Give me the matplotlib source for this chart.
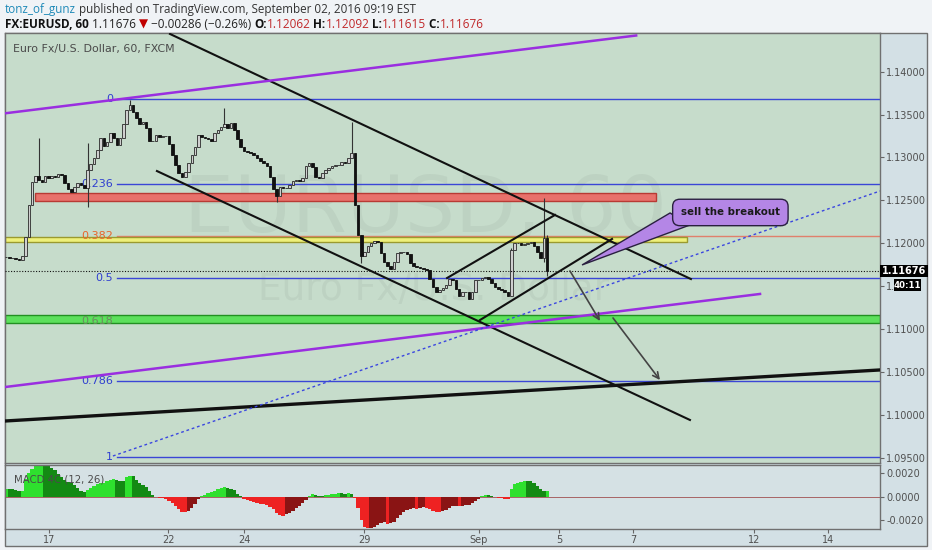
import numpy as np
import matplotlib
matplotlib.use('Agg')
import matplotlib.pyplot as plt
from matplotlib.patches import Rectangle, Polygon

# ---------------- data (2-hour bars, index k) ----------------
closes = [1.11840, 1.11828, 1.11828, 1.11817, 1.11805, 1.11851, 1.12073, 1.12446, 1.12714, 1.12784,
          1.12737, 1.12714, 1.12784, 1.12761, 1.12784, 1.12772, 1.12807, 1.12796, 1.12702, 1.12633,
          1.12598, 1.12656, 1.12702, 1.12679, 1.12644, 1.12854, 1.12924, 1.12994, 1.13087, 1.13227,
          1.13134, 1.13180, 1.13285, 1.13227, 1.13146, 1.13227, 1.13390, 1.13554, 1.13612, 1.13530,
          1.13460, 1.13390, 1.13414, 1.13344, 1.13192, 1.13192, 1.13262, 1.13239, 1.13250, 1.13250,
          1.13157, 1.13029, 1.12912, 1.12819, 1.12772, 1.12831, 1.12936, 1.13029, 1.13122, 1.13262,
          1.13239, 1.13227, 1.13215, 1.13192, 1.13285, 1.13320, 1.13355, 1.13390, 1.13344, 1.13402,
          1.13320, 1.13215, 1.13122, 1.13076, 1.13064, 1.13052, 1.13029, 1.12994, 1.12959, 1.12936,
          1.12901, 1.12772, 1.12633, 1.12551, 1.12656, 1.12644, 1.12644, 1.12679, 1.12726, 1.12737,
          1.12726, 1.12761, 1.12901, 1.12936, 1.12889, 1.12772, 1.12761, 1.12819, 1.12854, 1.12877,
          1.12901, 1.12912, 1.12912, 1.12947, 1.12936, 1.12994, 1.13052, 1.12446, 1.12096, 1.11851,
          1.11898, 1.11968, 1.12003, 1.12026, 1.12015, 1.11886, 1.11782, 1.11735, 1.11700, 1.11782,
          1.11886, 1.11898, 1.11898, 1.11875, 1.11770, 1.11735, 1.11723, 1.11712, 1.11700, 1.11688,
          1.11583, 1.11490, 1.11432, 1.11455, 1.11478, 1.11513, 1.11583, 1.11572, 1.11467, 1.11385,
          1.11432, 1.11432, 1.11350, 1.11432, 1.11572, 1.11572, 1.11595, 1.11607, 1.11583, 1.11537,
          1.11490, 1.11467, 1.11455, 1.11432, 1.11385, 1.11921, 1.12003, 1.12003, 1.11980, 1.11991,
          1.12003, 1.12015, 1.11968, 1.11898, 1.11828, 1.12062, 1.11676]
spike_high = {10: 1.13227, 25: 1.13169, 38: 1.13670, 67: 1.13577, 106: 1.13414,
              155: 1.11944, 165: 1.12528, 166: 1.12092}
spike_low = {25: 1.12423, 83: 1.12481, 109: 1.11770, 165: 1.11782, 166: 1.11615}

macd_e4 = [7.0, 6.8, 6.5, 5.8, 4.8, 5.0, 15.0, 20.5, 24.0, 26.5,
           27.4, 27.4, 27.2, 26.5, 24.5, 22.5, 19.5, 16.5, 14.5, 12.5,
           11.5, 10.3, 7.5, 5.0, 4.0, 5.5, 7.6, 9.0, 10.5, 11.3,
           12.0, 13.2, 14.5, 14.8, 14.0, 13.5, 13.0, 16.5, 18.0, 17.5,
           14.0, 12.0, 10.3, 8.3, 4.5, 1.5, -0.2, -0.8, -1.3, -2.2,
           -3.6, -5.8, -8.0, -10.7, -13.0, -13.4, -12.5, -9.5, -6.2, -2.0,
           0.9, 1.8, 2.8, 4.2, 5.3, 6.5, 7.2, 7.9, 7.6, 6.8,
           5.5, 2.5, 0.7, -1.8, -3.0, -3.9, -4.6, -5.1, -5.9, -6.5,
           -7.3, -8.8, -10.8, -13.5, -16.0, -16.2, -14.9, -13.5, -12.2, -10.0,
           -8.0, -5.5, -2.5, 1.0, 2.0, 1.2, 0.6, 0.4, 1.2, 1.7,
           2.2, 2.5, 3.0, 2.8, 2.3, 2.9, 2.5, -1.5, -10.0, -19.5,
           -25.5, -27.0, -26.5, -26.0, -23.8, -22.5, -22.0, -23.0, -22.8, -21.5,
           -18.5, -15.7, -13.2, -11.0, -10.2, -10.0, -10.3, -9.8, -9.1, -9.8,
           -10.8, -11.9, -13.0, -13.1, -12.2, -11.3, -10.0, -8.2, -8.0, -8.2,
           -7.8, -7.4, -7.0, -5.5, -3.5, -1.8, 0.9, 1.3, 1.2, 0.9,
           -0.2, -0.8, -1.3, -2.2, -2.3, 7.0, 10.5, 12.0, 12.8, 13.6,
           13.5, 13.0, 11.3, 8.8, 6.3, 4.5, 4.5]

date_labels = ["17", "22", "24", "29", "Sep", "5", "7", "12", "14"]
date_pos = [13.2, 49.7, 73.0, 109.8, 145.1, 169.6, 192.3, 229.4, 252.1]

price_ticks = [1.095, 1.100, 1.105, 1.110, 1.115, 1.120, 1.125, 1.130, 1.135, 1.140]
price_tick_labels = ["1.09500", "1.10000", "1.10500", "1.11000", "1.", "1.12000",
                     "1.12500", "1.13000", "1.13500", "1.14000"]   # 1.11500 is hidden by the timer box
macd_ticks = [0.002, 0.0, -0.002]
macd_tick_labels = ["0.0020", "0.0000", "-0.0020"]

fib_high, fib_low = 1.13678, 1.09505
fib_levels = [0, 0.236, 0.382, 0.5, 0.618, 0.786, 1]
fib_start = 34.0

bands = [  # (x0, x1, p_low, p_high, face, edge)
    (8.9, 199.4, 1.12496, 1.12582, '#e8716b', '#b83a34'),
    (-0.3, 208.9, 1.12011, 1.12073, '#eef07a', '#9a9a30'),
    (-0.3, 268.1, 1.11067, 1.11164, '#5ce05c', '#229022'),
]
black_lines = [((50.3, 1.14440), (210.1, 1.11583)), ((46.3, 1.12842), (209.8, 1.09940)),
               ((145.4, 1.11105), (185.9, 1.12050)), ((135.3, 1.11595), (168.4, 1.12330))]
thick_line = ((-0.3, 1.09928), (268.1, 1.10523))
purple_lines = [((-0.3, 1.13515), (193.3, 1.14422)), ((-0.3, 1.10324), (231.3, 1.11409))]
blue_dotted = ((32.8, 1.09520), (268.1, 1.12609))
arrows = [((173.0, 1.11677), (182.2, 1.11094)), ((186.2, 1.11129), (200.6, 1.10406))]
callout_text = "sell the breakout"
callout_center = (222.2, 1.12359)
callout_pointer = [(203.7, 1.12353), (209.8, 1.12213), (176.7, 1.11747)]
timer_text = "40:11"
header_change, header_pct = -0.00286, -0.26

XLIM = (-0.31, 268.1)
YLIM = (1.094383, 1.144512)
MLIM = (-0.00276, 0.00271)

# ---------------- figure ----------------
W, H = 932, 550
fig = plt.figure(figsize=(W / 100, H / 100), dpi=100)
fig.patch.set_facecolor('#f0f3f6')
def fx(px): return px / W
def fy(py): return 1 - py / H

fig.patches.append(Rectangle((fx(5), fy(546)), fx(927) - fx(5), fy(33) - fy(546),
                             transform=fig.transFigure, facecolor='#d3e0e5',
                             edgecolor='#707070', lw=1, zorder=-5))

ax = fig.add_axes([fx(5), fy(463), fx(880) - fx(5), fy(33) - fy(463)])
axm = fig.add_axes([fx(5), fy(529), fx(880) - fx(5), fy(465) - fy(529)])
ax.set_facecolor('#c6dccb')
axm.set_facecolor('#d5e1e4')
for a in (ax, axm):
    for s in a.spines.values():
        s.set_color('#707070')
        s.set_linewidth(1)
    a.set_xlim(*XLIM)

ax.set_ylim(*YLIM)
axm.set_ylim(*MLIM)

# watermark
ax.text(0.48, 0.588, "EURUSD, 60", transform=ax.transAxes, fontsize=57, color='#000000',
        alpha=0.045, ha='center', va='center', zorder=0)
ax.text(0.49, 0.402, "Euro Fx/U.S. Dollar", transform=ax.transAxes, fontsize=27, color='#000000',
        alpha=0.045, ha='center', va='center', zorder=0)

# fib retracement
rng = fib_high - fib_low
for lv in fib_levels:
    p = fib_high - lv * rng
    if lv == 0.382:
        lc, tc = '#e0806c', '#e8642a'
    elif lv == 0.618:
        lc, tc = '#2a9a2a', '#6b8a5e'
    else:
        lc, tc = '#3a46d6', '#2f3fd0'
    ax.plot([fib_start, XLIM[1]], [p, p], color=lc, lw=1, zorder=1)
    lab = "0" if lv == 0 else ("1" if lv == 1 else f"{lv:g}")
    ax.text(fib_start - 1.2, p, lab, color=tc, fontsize=8, ha='right', va='center', zorder=2.5)

# bands
for x0, x1, pl, ph, fc, ec in bands:
    ax.add_patch(Rectangle((x0, pl), x1 - x0, ph - pl, facecolor=fc, edgecolor=ec, lw=1, zorder=2))

# candles
k = np.arange(len(closes))
c = np.array(closes)
o = np.concatenate([[c[0]], c[:-1]])
hi = np.maximum(o, c)
lo = np.minimum(o, c)
for i, v in spike_high.items():
    hi[i] = max(hi[i], v)
for i, v in spike_low.items():
    lo[i] = min(lo[i], v)
up = c >= o
ax.vlines(k, lo, hi, color='#333333', lw=0.8, zorder=3)
body_b = np.minimum(o, c)
body_h = np.maximum(np.abs(c - o), 0.00004)
ax.bar(k[up], body_h[up], bottom=body_b[up], width=0.8, color='#cfcfcf', edgecolor='#2a2a2a', lw=0.6, zorder=3.1)
ax.bar(k[~up], body_h[~up], bottom=body_b[~up], width=0.8, color='#111111', edgecolor='#111111', lw=0.6, zorder=3.1)

# last price dotted line
ax.plot(XLIM, [c[-1], c[-1]], color='#111111', lw=0.8, ls=(0, (1, 1.5)), zorder=3.5)

# drawings
for (x0, y0), (x1, y1) in black_lines:
    ax.plot([x0, x1], [y0, y1], color='#111111', lw=1.5, zorder=4)
ax.plot([thick_line[0][0], thick_line[1][0]], [thick_line[0][1], thick_line[1][1]], color='#111111', lw=2.4, zorder=4)
for (x0, y0), (x1, y1) in purple_lines:
    ax.plot([x0, x1], [y0, y1], color='#9a2ee0', lw=1.8, zorder=4)
ax.plot([blue_dotted[0][0], blue_dotted[1][0]], [blue_dotted[0][1], blue_dotted[1][1]],
        color='#3a46e0', lw=1, ls=(0, (2, 2)), zorder=4)
for (x0, y0), (x1, y1) in arrows:
    ax.annotate("", xy=(x1, y1), xytext=(x0, y0),
                arrowprops=dict(arrowstyle='->', color='#444444', lw=1.2, mutation_scale=11,
                                shrinkA=0, shrinkB=0), zorder=4)

ax.add_patch(Polygon(callout_pointer, closed=True, facecolor='#b486e6', edgecolor='#2a2040', lw=1, zorder=5))
ax.text(callout_center[0], callout_center[1], callout_text, fontsize=7.4, fontweight='bold', color='#1a1a1a',
        ha='center', va='center', zorder=6,
        bbox=dict(boxstyle='round,pad=0.8,rounding_size=0.7', facecolor='#b486e6', edgecolor='#2a2040', lw=1))

# top-left title
ax.text(0.0092, 0.963, "Euro Fx/U.S. Dollar, 60, FXCM", transform=ax.transAxes, fontsize=7.9,
        color='#4a4a4a', ha='left', va='center', zorder=6)

# price axis
ax.set_xticks([])
ax.yaxis.tick_right()
ax.set_yticks(price_ticks)
ax.set_yticklabels(price_tick_labels)
ax.tick_params(axis='y', direction='out', length=3, color='#666666', labelsize=7, labelcolor='#505050', pad=1.5)

# MACD panel
m = np.array(macd_e4) * 1e-4
prev = np.concatenate([[m[0]], m[:-1]])
cols = []
for v, pv in zip(m, prev):
    if v >= 0:
        cols.append('#2ee02e' if v >= pv else '#138a13')
    else:
        cols.append('#ee2222' if v < pv else '#8a1414')
axm.bar(k, m, width=1.0, color=cols, lw=0, zorder=2)
axm.axhline(0, color='#a05050', lw=0.6, zorder=1)
axm.text(0.0103, 0.77, "MACD 4C (12, 26)", transform=axm.transAxes, fontsize=7.3, color='#4a4a4a',
         ha='left', va='center', zorder=3)
axm.yaxis.tick_right()
axm.set_yticks(macd_ticks)
axm.set_yticklabels(macd_tick_labels)
axm.set_xticks(date_pos)
axm.set_xticklabels(date_labels)
axm.tick_params(axis='both', direction='out', length=3, color='#666666', labelsize=7, labelcolor='#505050', pad=1.5)

# last price / countdown labels
fig.patches.append(Rectangle((fx(880), fy(277)), fx(928) - fx(880), fy(265) - fy(277),
                             transform=fig.transFigure, facecolor='#000000', lw=0, zorder=5))
fig.text(fx(904), fy(271), f"{c[-1]:.5f}", color='white', fontsize=7, fontweight='bold',
         ha='center', va='center', zorder=6)
fig.patches.append(Rectangle((fx(894), fy(291)), fx(921) - fx(894), fy(279) - fy(291),
                             transform=fig.transFigure, facecolor='#000000', lw=0, zorder=5))
fig.text(fx(907.5), fy(285), timer_text, color='white', fontsize=6.2, fontweight='bold',
         ha='center', va='center', zorder=6)

# header
renderer = fig.canvas.get_renderer()
def draw_seq(pieces, x0, y0, size):
    x = x0
    for txt, color, weight in pieces:
        t = fig.text(fx(x), fy(y0), txt, color=color, fontsize=size, fontweight=weight,
                     ha='left', va='center', family=['Open Sans', 'DejaVu Sans'])
        x += t.get_window_extent(renderer=renderer).width

red = '#c0282a'
draw_seq([("tonz_of_gunz", '#1f8ab8', 'normal'),
          (" published on TradingView.com, September 02, 2016 09:19 EST", '#333333', 'normal')], 5, 9, 8.35)
draw_seq([("FX:EURUSD, 60", '#111111', 'bold'),
          (f" {c[-1]:.5f} ", '#222222', 'normal'),
          ("\u25BC", '#c00000', 'normal'),
          (f" \u2212{abs(header_change):.5f} (\u2212{abs(header_pct):.2f}%) ", '#222222', 'normal'),
          ("O:", '#111111', 'bold'), (f"{o[-1]:.5f}", red, 'normal'),
          (" H:", '#111111', 'bold'), (f"{hi[-1]:.5f}", red, 'normal'),
          (" L:", '#111111', 'bold'), (f"{lo[-1]:.5f}", red, 'normal'),
          (" C:", '#111111', 'bold'), (f"{c[-1]:.5f}", red, 'normal')], 5, 24, 8.5)

fig.savefig("out.png", dpi=100, facecolor=fig.get_facecolor())
